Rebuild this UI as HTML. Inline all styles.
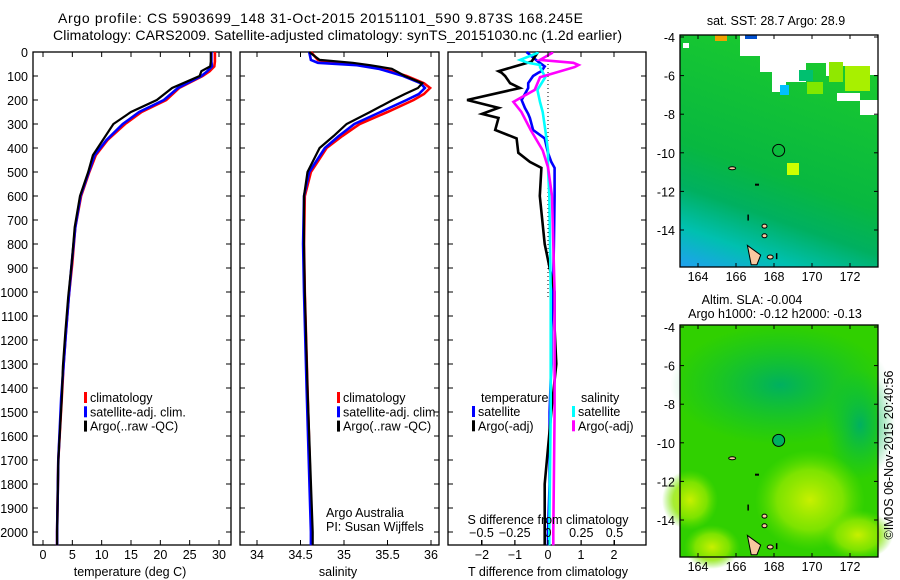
<!DOCTYPE html>
<html><head><meta charset="utf-8"><style>
html,body{margin:0;padding:0;background:#fff;}
svg{display:block;font-family:"Liberation Sans",sans-serif;}
text{font-size:12.5px;fill:#000;}
</style></head><body>
<svg id="fig" width="900" height="580" viewBox="0 0 900 580" xmlns="http://www.w3.org/2000/svg">
<defs>
<linearGradient id="sstg" x1="0.3" y1="0" x2="0" y2="1">
<stop offset="0" stop-color="#18c830"/><stop offset="0.5" stop-color="#08b840"/><stop offset="0.68" stop-color="#00b060"/><stop offset="0.84" stop-color="#00c0b0"/><stop offset="1" stop-color="#20a0f0"/>
</linearGradient>
<radialGradient id="y1" cx="0.5" cy="0.5" r="0.5"><stop offset="0" stop-color="#c8f000"/><stop offset="0.6" stop-color="#90e800" stop-opacity="0.8"/><stop offset="1" stop-color="#60e000" stop-opacity="0"/></radialGradient>
<radialGradient id="dk" cx="0.5" cy="0.5" r="0.5"><stop offset="0" stop-color="#00b060"/><stop offset="1" stop-color="#00c040" stop-opacity="0"/></radialGradient>
</defs>
<text x="58" y="23" textLength="525" lengthAdjust="spacing" style="font-size:14px">Argo profile: CS 5903699_148 31-Oct-2015 20151101_590 9.873S 168.245E</text>
<text x="53" y="40" textLength="569" lengthAdjust="spacing" style="font-size:14px">Climatology: CARS2009. Satellite-adjusted climatology: synTS_20151030.nc (1.2d earlier)</text>
<g id="panels"></g>
<text transform="translate(893,455) rotate(-90)" text-anchor="middle">©IMOS 06-Nov-2015 20:40:56</text>
</svg>
<script>
// ---------- data ----------
const depths      = [0, 40, 60, 80, 100, 150, 200, 250, 300, 367, 430, 500, 600, 730, 880, 1020, 1170, 1310, 1440, 1700, 2000, 2055];
const tempClim    = [29.3, 29.3, 29.2, 28.4, 27.2, 23.2, 21.0, 16.8, 14.0, 11.0, 9.0, 7.9, 6.5, 5.5, 5.0, 4.4, 3.9, 3.5, 3.2, 2.6, 2.4, 2.4];
const tempSat     = [28.7, 28.7, 28.8, 28.0, 27.0, 23.0, 20.6, 16.4, 13.6, 10.8, 8.8, 7.8, 6.4, 5.5, 4.9, 4.4, 3.9, 3.5, 3.1, 2.6, 2.4, 2.4];
const tempArgo    = [28.6, 28.6, 28.5, 27.0, 26.7, 22.0, 19.4, 15.0, 12.0, 10.2, 8.5, 7.7, 6.3, 5.4, 4.9, 4.3, 3.8, 3.4, 3.2, 2.6, 2.4, 2.4];
const salDepths   = [0, 33, 45, 55, 70, 100, 130, 150, 175, 200, 250, 300, 350, 400, 500, 600, 800, 1000, 1400, 2000, 2055];
const salClim     = [34.62, 34.70, 34.85, 35.25, 35.45, 35.72, 35.92, 35.99, 35.92, 35.80, 35.50, 35.18, 34.98, 34.80, 34.62, 34.55, 34.54, 34.55, 34.58, 34.63, 34.63];
const salSat      = [34.60, 34.62, 34.70, 35.15, 35.40, 35.68, 35.88, 35.93, 35.86, 35.72, 35.42, 35.12, 34.94, 34.78, 34.60, 34.54, 34.53, 34.54, 34.57, 34.62, 34.62];
const salArgo     = [34.60, 34.72, 35.10, 35.30, 35.55, 35.70, 35.90, 35.85, 35.70, 35.56, 35.30, 35.03, 34.88, 34.72, 34.58, 34.54, 34.54, 34.55, 34.58, 34.64, 34.64];
const tdDepths    = [0, 40, 60, 80, 87, 100, 130, 150, 200, 233, 258, 275, 325, 360, 420, 458, 483, 600, 800, 1000, 1150, 1300, 1500, 1800, 2000, 2055];
const tdArgo      = [-0.3, -0.5, -1.0, -1.5, -1.4, -1.3, -1.15, -0.85, -2.45, -1.5, -2.0, -1.5, -1.6, -0.95, -0.9, -0.55, -0.2, -0.25, -0.1, 0.2, 0.2, 0.25, 0.1, -0.1, -0.1, -0.1];
const tdSat       = [-0.65, -0.3, -0.1, -0.2, -0.3, -0.45, -0.6, -0.6, -0.8, -0.7, -0.6, -0.55, -0.45, -0.1, 0.0, 0.1, 0.2, 0.2, 0.18, 0.15, 0.1, 0.1, 0.05, 0.05, 0.0, 0.0];
const sdDepths    = [0, 4, 33, 45, 54, 63, 105, 158, 208, 250, 325, 410, 480, 600, 1000, 1500, 2000, 2055];
const sdArgo      = [0.03, 0.03, -0.06, 0.19, 0.23, 0.2, -0.06, -0.1, -0.26, -0.2, -0.13, -0.04, 0.0, 0.03, 0.05, 0.05, 0.04, 0.04];
const sdSat       = [-0.08, -0.08, -0.21, -0.15, -0.06, -0.06, -0.02, -0.08, -0.06, -0.04, -0.02, 0.0, 0.0, 0.01, 0.02, 0.02, 0.01, 0.01];
const depthTicks  = [0,100,200,300,400,500,600,700,800,900,1000,1100,1200,1300,1400,1500,1600,1700,1800,1900,2000];
const tempTicks   = [0,5,10,15,20,25,30];
const salTicks    = [34,34.5,35,35.5,36];
const tdTicks     = [-2,-1,0,1,2];
const sdTicks     = [-0.5,-0.25,0,0.25,0.5];
const lonTicks    = [164,166,168,170,172];
const latTicks    = [-4,-6,-8,-10,-12,-14];

// ---------- helpers ----------
const NS = "http://www.w3.org/2000/svg";
const root = document.getElementById('panels');
function mk(tag, attrs, parent, txt){
  const e = document.createElementNS(NS, tag);
  for (const k in attrs) e.setAttribute(k, attrs[k]);
  if (txt !== undefined) e.textContent = txt;
  (parent || root).appendChild(e);
  return e;
}
const TOP = 52, BOT = 545;
const yD = d => TOP + d * 0.24;
function linScale(v0, p0, v1, p1){ return v => p0 + (v - v0) * (p1 - p0) / (v1 - v0); }

function frame(x0, x1, name){
  const r = mk('rect', {x:x0, y:TOP, width:x1-x0, height:BOT-TOP, fill:'none', stroke:'#000', 'stroke-width':1.3});
  
  
}
function stepPath(xs, ds, sx, color, name, w){
  let d = '';
  for (let i = 0; i < xs.length; i++){
    const x = sx(xs[i]).toFixed(1), y = yD(ds[i]).toFixed(1);
    d += (i ? 'L' : 'M') + x + ',' + y;
  }
  const p = mk('path', {d:d, fill:'none', stroke:color, 'stroke-width':w || 2.6, 'stroke-linejoin':'miter'});
  
  
}
function xTicks(ticks, sx, labelY, fmt, name, topTicks){
  ticks.forEach(t => {
    const x = sx(t);
    mk('line', {x1:x, y1:BOT, x2:x, y2:BOT-5, stroke:'#000'});
    if (topTicks) mk('line', {x1:x, y1:TOP, x2:x, y2:TOP+5, stroke:'#000'});
    if (labelY) {
      const tx = mk('text', {x:x, y:labelY, 'text-anchor':'middle'}, null, fmt ? fmt(t) : String(t));
      
      
    }
  });
}
function yTicks(x0, x1, labels){
  depthTicks.forEach(d => {
    const y = yD(d);
    mk('line', {x1:x0, y1:y, x2:x0+5, y2:y, stroke:'#000'});
    mk('line', {x1:x1, y1:y, x2:x1-5, y2:y, stroke:'#000'});
    if (labels){
      const t = mk('text', {x:x0-5, y:y+5, 'text-anchor':'end'}, null, String(d));
      
      
    }
  });
}
function legend(x, y, items){
  items.forEach((it, i) => {
    mk('rect', {x:x, y:y + i*14.3 - 10, width:3, height:11, fill:it[1]});
    const t = mk('text', {x:x+6, y:y + i*14.3}, null, it[0]);
    
    
  });
}

// ---------- temperature panel ----------
const sxT = linScale(0, 43, 30, 219);
frame(33, 231, 'temperature-panel');
yTicks(33, 231, true);
xTicks(tempTicks, sxT, 559, null, 'temperature-tick-label', true);
stepPath(tempClim, depths, sxT, '#ff0000', 'temp-climatology-line');
stepPath(tempSat, depths, sxT, '#0000ff', 'temp-satellite-line');
stepPath(tempArgo, depths, sxT, '#000000', 'temp-argo-line', 2.2);
legend(84, 402, [['climatology','#ff0000'],['satellite-adj. clim.','#0000ff'],['Argo(..raw -QC)','#000']]);
mk('text', {x:130, y:576, 'text-anchor':'middle',  }, null, 'temperature (deg C)');

// ---------- salinity panel ----------
const sxS = linScale(34, 257, 36, 431);
frame(240, 439, 'salinity-panel');
yTicks(240, 439, false);
xTicks(salTicks, sxS, 559, null, 'salinity-tick-label', true);
stepPath(salClim, salDepths, sxS, '#ff0000', 'sal-climatology-line');
stepPath(salSat, salDepths, sxS, '#0000ff', 'sal-satellite-line');
stepPath(salArgo, salDepths, sxS, '#000000', 'sal-argo-line', 2.2);
legend(337, 402, [['climatology','#ff0000'],['satellite-adj. clim.','#0000ff'],['Argo(..raw -QC)','#000']]);
mk('text', {x:326, y:517,  }, null, 'Argo Australia');
mk('text', {x:326, y:531,  }, null, 'PI: Susan Wijffels');
mk('text', {x:338, y:576, 'text-anchor':'middle',  }, null, 'salinity');

// ---------- difference panel ----------
const sxTD = linScale(0, 548, 1, 581);
const sxSD = linScale(0, 548, 0.5, 614.5);
frame(448, 646, 'difference-panel');
yTicks(448, 646, false);
mk('line', {x1:548, y1:TOP, x2:548, y2:300, stroke:'#000', 'stroke-dasharray':'1,3', 'stroke-width':1});
stepPath(tdSat, tdDepths, sxTD, '#0000ff', 'tdiff-satellite-line');
stepPath(tdArgo, tdDepths, sxTD, '#000000', 'tdiff-argo-line');
stepPath(sdSat, sdDepths, sxSD, '#00ffff', 'sdiff-satellite-line');
stepPath(sdArgo, sdDepths, sxSD, '#ff00ff', 'sdiff-argo-line');
xTicks(tdTicks, sxTD, 559, t => t < 0 ? '\u2212' + (-t) : String(t), 'tdiff-tick-label', true);
xTicks(sdTicks, sxSD, 537, t => t < 0 ? '\u2212' + (-t) : String(t), 'sdiff-tick-label', false);
mk('text', {x:548, y:524, 'text-anchor':'middle',  }, null, 'S difference from climatology');
mk('text', {x:548, y:576, 'text-anchor':'middle',  }, null, 'T difference from climatology');
mk('text', {x:481, y:402,  }, null, 'temperature');
mk('text', {x:581, y:402,  }, null, 'salinity');
legend(472, 416, [['satellite','#0000ff'],['Argo(-adj)','#000']]);
legend(572, 416, [['satellite','#00ffff'],['Argo(-adj)','#ff00ff']]);

// ---------- maps ----------
function mapPanel(top, bottom, name, sst){
  const x0 = 680, x1 = 878;
  const sx = linScale(164, 698, 172, 850);
  const sy = linScale(-4, top + 2, -14, top + 195);
  const g = mk('g', {});
  
  
  if (sst){
    mk('rect', {x:x0, y:top, width:x1-x0, height:bottom-top, fill:'url(#sstg)'}, g);
    // missing-data (white) areas
    mk('path', {d:'M740,35 H878 V75 H868 V66 H840 V76 H826 V63 H806 V82 H786 V92 H772 V72 H760 V56 H740 Z', fill:'#fff'}, g);
    mk('rect', {x:837, y:93, width:23, height:8, fill:'#fff'}, g);
    mk('rect', {x:860, y:100, width:18, height:15, fill:'#fff'}, g);
    mk('rect', {x:683, y:43, width:6, height:5, fill:'#fff'}, g);
    mk('rect', {x:845, y:66, width:25, height:25, fill:'#a8f000'}, g);
    mk('rect', {x:829, y:62, width:14, height:20, fill:'#90e800'}, g);
    mk('rect', {x:799, y:70, width:14, height:11, fill:'#00c070'}, g);
    mk('rect', {x:807, y:82, width:16, height:12, fill:'#80e800'}, g);
    mk('rect', {x:787, y:163, width:12, height:12, fill:'#ccff00'}, g);
    mk('rect', {x:780, y:85, width:9, height:10, fill:'#00c0ff'}, g);
    mk('rect', {x:715, y:35, width:12, height:6, fill:'#f0a000'}, g);
    mk('rect', {x:745, y:35, width:12, height:4, fill:'#0050d0'}, g);
  } else {
    mk('rect', {x:x0, y:top, width:x1-x0, height:bottom-top, fill:'#30d000'}, g);
    mk('ellipse', {cx:780, cy:top+60, rx:110, ry:60, fill:'url(#dk)'}, g);
    mk('ellipse', {cx:860, cy:top+100, rx:35, ry:55, fill:'url(#dk)'}, g);
    mk('ellipse', {cx:810, cy:top+175, rx:55, ry:50, fill:'url(#y1)'}, g);
    mk('ellipse', {cx:690, cy:top+175, rx:28, ry:30, fill:'url(#y1)'}, g);
    mk('ellipse', {cx:712, cy:top+222, rx:28, ry:22, fill:'url(#y1)'}, g);
    mk('ellipse', {cx:858, cy:top+210, rx:35, ry:25, fill:'url(#y1)'}, g);
  }
  // islands
  mk('path', {d:`M${sx(166.6)},${sy(-14.8)} L${sx(167.3)},${sy(-15.3)} L${sx(167.1)},${sy(-15.8)} L${sx(166.8)},${sy(-15.8)} Z`, fill:'#f8c8a0', stroke:'#000', 'stroke-width':1}, g);
  mk('ellipse', {cx:sx(167.8), cy:sy(-15.4), rx:3, ry:2, fill:'#f8c8a0', stroke:'#000'}, g);
  mk('ellipse', {cx:sx(167.5), cy:sy(-14.3), rx:2.5, ry:2, fill:'#f8c8a0', stroke:'#000'}, g);
  mk('ellipse', {cx:sx(167.5), cy:sy(-13.8), rx:2.5, ry:2, fill:'#f8c8a0', stroke:'#000'}, g);
  mk('ellipse', {cx:sx(165.8), cy:sy(-10.8), rx:3.5, ry:1.5, fill:'#f8c8a0', stroke:'#000'}, g);
  mk('rect', {x:sx(167), y:sy(-11.6), width:4, height:2, fill:'#000'}, g);
  mk('rect', {x:sx(166.6), y:sy(-13.2), width:1.5, height:6, fill:'#000'}, g);
  mk('rect', {x:sx(168.1), y:sy(-15.2), width:1.5, height:6, fill:'#000'}, g);
  mk('circle', {cx:sx(168.245), cy:sy(-9.873), r:6, fill:sst ? 'none' : '#00b060', stroke:'#000', 'stroke-width':1}, g);
  mk('rect', {x:x0, y:top, width:x1-x0, height:bottom-top, fill:'none', stroke:'#000', 'stroke-width':1.3}, g);
  lonTicks.forEach(l => {
    const x = sx(l);
    mk('line', {x1:x, y1:bottom, x2:x, y2:bottom-4, stroke:'#000'}, g);
    mk('line', {x1:x, y1:top, x2:x, y2:top+4, stroke:'#000'}, g);
    const t = mk('text', {x:x, y:bottom+14, 'text-anchor':'middle'}, g, String(l));
    
    
  });
  latTicks.forEach(l => {
    const y = sy(l);
    mk('line', {x1:x0, y1:y, x2:x0+4, y2:y, stroke:'#000'}, g);
    mk('line', {x1:x1, y1:y, x2:x1-4, y2:y, stroke:'#000'}, g);
    const t = mk('text', {x:x0-5, y:y+5, 'text-anchor':'end'}, g, String(l));
    
    
  });
}
mapPanel(35, 267, 'sst-map', true);
mk('text', {x:776, y:25, 'text-anchor':'middle',  }, null, 'sat. SST: 28.7 Argo: 28.9');
mk('text', {x:752, y:304, 'text-anchor':'middle',  }, null, 'Altim. SLA: -0.004');
mapPanel(325, 557, 'sla-map', false);
mk('text', {x:775, y:318, 'text-anchor':'middle',  }, null, 'Argo h1000: -0.12 h2000: -0.13');
</script>
</body></html>
